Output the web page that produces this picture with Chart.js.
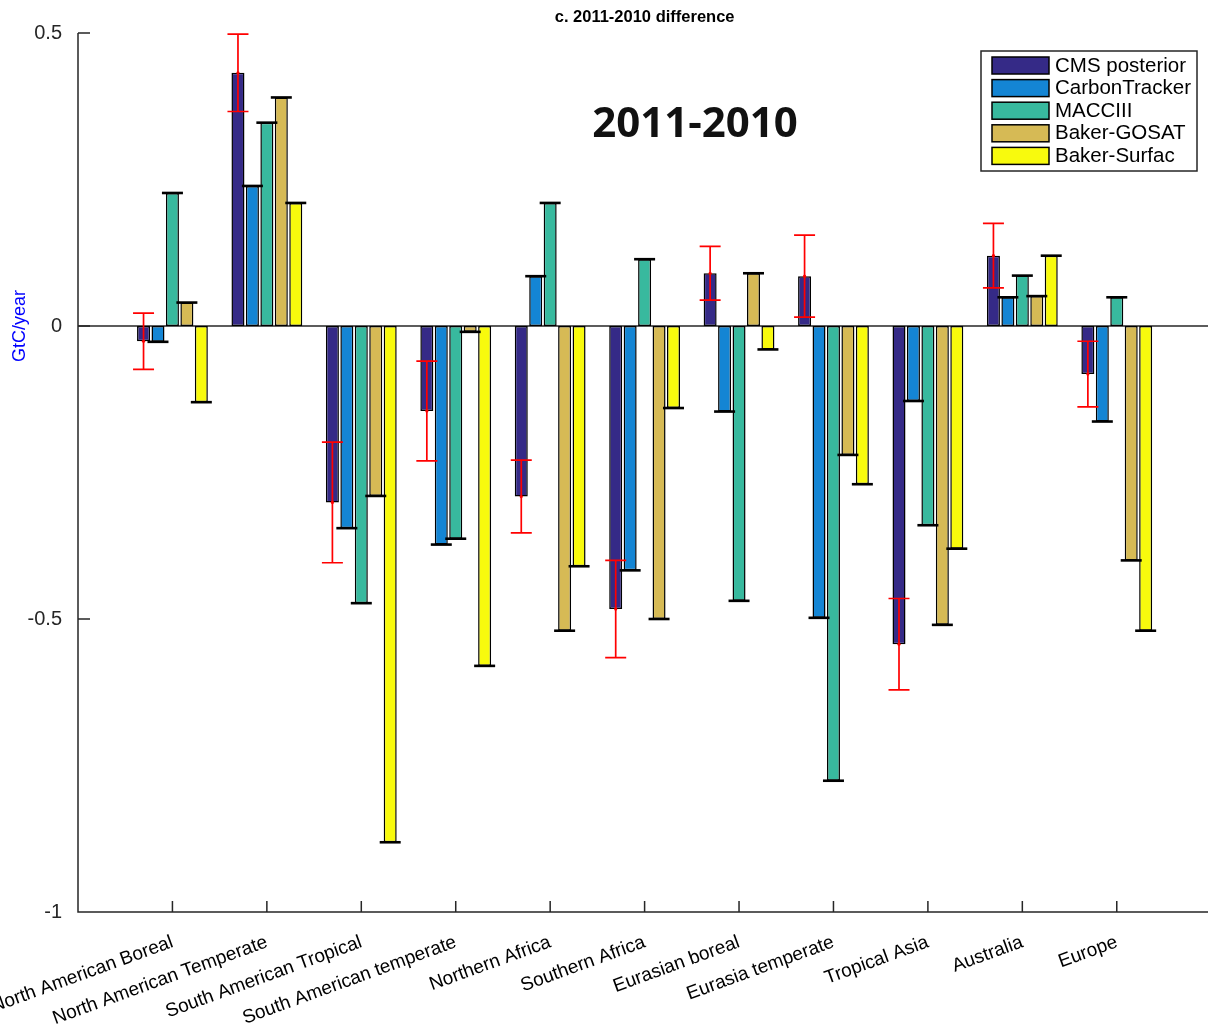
<!DOCTYPE html>
<html>
<head>
<meta charset="utf-8">
<title>c. 2011-2010 difference</title>
<script src="https://cdn.jsdelivr.net/npm/chart.js@4/dist/chart.umd.min.js"></script>
<style>
  html, body { margin: 0; padding: 0; background: #fff; overflow: hidden; }
  #wrap { width: 1230px; height: 1027px; }
</style>
</head>
<body>
<div id="wrap"><canvas id="c" width="1230" height="1027"></canvas></div>
<script>
// Regional CO2 flux change, 2011 minus 2010 (GtC/year)
const regions = ['North American Boreal', 'North American Temperate', 'South American Tropical',
  'South American temperate', 'Northern Africa', 'Southern Africa', 'Eurasian boreal',
  'Eurasia temperate', 'Tropical Asia', 'Australia', 'Europe'];

const seriesNames = ['CMS posterior', 'CarbonTracker', 'MACCIII', 'Baker-GOSAT', 'Baker-Surfac'];

const cmsPosterior  = [-0.026, 0.432, -0.301, -0.145, -0.291, -0.483, 0.090, 0.085, -0.543, 0.120, -0.082];
const cmsUncertainty = [0.048, 0.066, 0.103, 0.085, 0.062, 0.083, 0.046, 0.070, 0.078, 0.055, 0.056];
const carbonTracker = [-0.027, 0.239, -0.345, -0.373, 0.085, -0.417, -0.146, -0.498, -0.128, 0.049, -0.163];
const macciii       = [0.227, 0.347, -0.473, -0.363, 0.210, 0.114, -0.469, -0.776, -0.340, 0.086, 0.049];
const bakerGosat    = [0.040, 0.390, -0.290, -0.010, -0.520, -0.500, 0.090, -0.220, -0.510, 0.051, -0.400];
const bakerSurfac   = [-0.130, 0.210, -0.881, -0.580, -0.410, -0.140, -0.040, -0.270, -0.380, 0.120, -0.520];

const yTicks = [-1, -0.5, 0, 0.5];

const barColors = ['#352A87', '#1485D4', '#38B99E', '#D6BA55', '#F8FA0D'];
const axisColor = '#262626';

// one empty slot on each side so the regions sit at 1..11 on a 0..12 axis
const pad = arr => [null, ...arr, null];
const xLabels = ['', ...regions, ''];

const seriesValues = [cmsPosterior, carbonTracker, macciii, bakerGosat, bakerSurfac];

const datasets = seriesValues.map((vals, k) => ({
  label: seriesNames[k],
  data: pad(vals),
  backgroundColor: barColors[k],
  borderColor: '#000',
  borderWidth: 1.5,
  borderSkipped: false,
  categoryPercentage: 0.765,
  barPercentage: 0.9,
  errors: k === 0 ? pad(cmsUncertainty) : null,
  errorColor: k === 0 ? '#FF0000' : '#000'
}));

Chart.defaults.font.family = '"Liberation Sans", Arial, Helvetica, sans-serif';

const decor = {
  id: 'decor',
  beforeDatasetsDraw(chart) {
    const { ctx, chartArea } = chart;
    const y0 = chart.scales.y.getPixelForValue(0);
    ctx.save();
    ctx.strokeStyle = axisColor;
    ctx.lineWidth = 1.5;
    ctx.beginPath();
    ctx.moveTo(chartArea.left, y0);
    ctx.lineTo(chartArea.right, y0);
    ctx.stroke();
    ctx.restore();
  },
  afterDatasetsDraw(chart) {
    const { ctx } = chart;
    const ys = chart.scales.y;
    const capHalf = 10.5;
    chart.data.datasets.forEach((ds, di) => {
      const meta = chart.getDatasetMeta(di);
      meta.data.forEach((bar, i) => {
        const v = ds.data[i];
        if (v === null || v === undefined) return;
        const e = ds.errors ? ds.errors[i] : 0;
        const x = bar.x;
        const yHi = ys.getPixelForValue(v + e);
        const yLo = ys.getPixelForValue(v - e);
        const yv = ys.getPixelForValue(v);
        ctx.save();
        ctx.strokeStyle = ds.errorColor;
        if (e > 0) {
          ctx.lineWidth = 1.7;
          ctx.beginPath();
          ctx.moveTo(x, yHi); ctx.lineTo(x, yLo);
          ctx.moveTo(x - capHalf, yHi); ctx.lineTo(x + capHalf, yHi);
          ctx.moveTo(x - capHalf, yLo); ctx.lineTo(x + capHalf, yLo);
          ctx.stroke();
          ctx.fillStyle = ds.errorColor;
          ctx.beginPath();
          ctx.arc(x, yv, 1.6, 0, Math.PI * 2);
          ctx.fill();
        } else {
          ctx.lineWidth = 2.6;
          ctx.beginPath();
          ctx.moveTo(x - capHalf, yv); ctx.lineTo(x + capHalf, yv);
          ctx.stroke();
        }
        ctx.restore();
      });
    });
  },
  afterDraw(chart) {
    const { ctx, chartArea } = chart;
    const xs = chart.scales.x, ys = chart.scales.y;
    ctx.save();

    // axis lines and inward tick marks
    ctx.strokeStyle = axisColor;
    ctx.lineWidth = 1.5;
    ctx.beginPath();
    ctx.moveTo(chartArea.left, chartArea.top);
    ctx.lineTo(chartArea.left, chartArea.bottom);
    ctx.lineTo(chartArea.right, chartArea.bottom);
    yTicks.forEach(t => {
      const py = ys.getPixelForValue(t);
      ctx.moveTo(chartArea.left, py);
      ctx.lineTo(chartArea.left + 12, py);
    });
    regions.forEach((r, i) => {
      const px = xs.getPixelForValue(i + 1);
      ctx.moveTo(px, chartArea.bottom);
      ctx.lineTo(px, chartArea.bottom - 11);
    });
    ctx.stroke();

    // y-axis unit label
    ctx.save();
    ctx.translate(20, ys.getPixelForValue(0));
    ctx.rotate(-Math.PI / 2);
    ctx.fillStyle = '#0000FF';
    ctx.font = '18px "Liberation Sans", Arial, sans-serif';
    ctx.textAlign = 'center';
    ctx.textBaseline = 'middle';
    ctx.fillText('GtC/year', 0, 0);
    ctx.restore();

    // title over the plot area
    const cx = (chartArea.left + chartArea.right) / 2;
    ctx.fillStyle = '#000';
    ctx.font = 'bold 16.5px "Liberation Sans", Arial, sans-serif';
    ctx.textAlign = 'center';
    ctx.textBaseline = 'middle';
    ctx.fillText('c. 2011-2010 difference', cx, 17);

    // period annotation
    ctx.fillStyle = '#111';
    ctx.font = 'bold 42px "Open Sans", sans-serif';
    ctx.fillText('2011-2010', 695, 125);

    // legend box
    const lx = 981, ly = 51, lw = 216, lh = 120;
    ctx.fillStyle = '#fff';
    ctx.fillRect(lx, ly, lw, lh);
    ctx.strokeStyle = axisColor;
    ctx.lineWidth = 1.5;
    ctx.strokeRect(lx, ly, lw, lh);
    ctx.font = '20.5px "Liberation Sans", Arial, sans-serif';
    ctx.textAlign = 'left';
    chart.data.datasets.forEach((ds, k) => {
      const top = 57 + k * 22.6;
      ctx.fillStyle = ds.backgroundColor;
      ctx.fillRect(992, top, 57, 17);
      ctx.strokeStyle = '#000';
      ctx.lineWidth = 1.5;
      ctx.strokeRect(992, top, 57, 17);
      ctx.fillStyle = '#000';
      ctx.fillText(ds.label, 1055, top + 9);
    });
    ctx.restore();
  }
};

new Chart(document.getElementById('c'), {
  type: 'bar',
  data: { labels: xLabels, datasets },
  options: {
    responsive: false,
    animation: false,
    events: [],
    layout: { padding: { top: 33, right: 15, left: 0, bottom: 0 } },
    plugins: { legend: { display: false }, title: { display: false }, tooltip: { enabled: false } },
    scales: {
      x: {
        offset: false,
        grid: { display: false },
        border: { display: false },
        ticks: {
          autoSkip: false,
          minRotation: 20,
          maxRotation: 20,
          padding: 11,
          color: '#000',
          font: { size: 19 },
          callback: function (v, i) { return xLabels[i]; }
        },
        afterFit(scale) { scale.height = 115; }
      },
      y: {
        min: -1,
        max: 0.5,
        grid: { display: false },
        border: { display: false },
        afterBuildTicks(scale) { scale.ticks = yTicks.map(v => ({ value: v })); },
        ticks: {
          padding: 8,
          color: axisColor,
          font: { size: 20 },
          callback: v => String(v)
        },
        afterFit(scale) { scale.width = 78; }
      }
    }
  },
  plugins: [decor]
});
</script>
</body>
</html>
